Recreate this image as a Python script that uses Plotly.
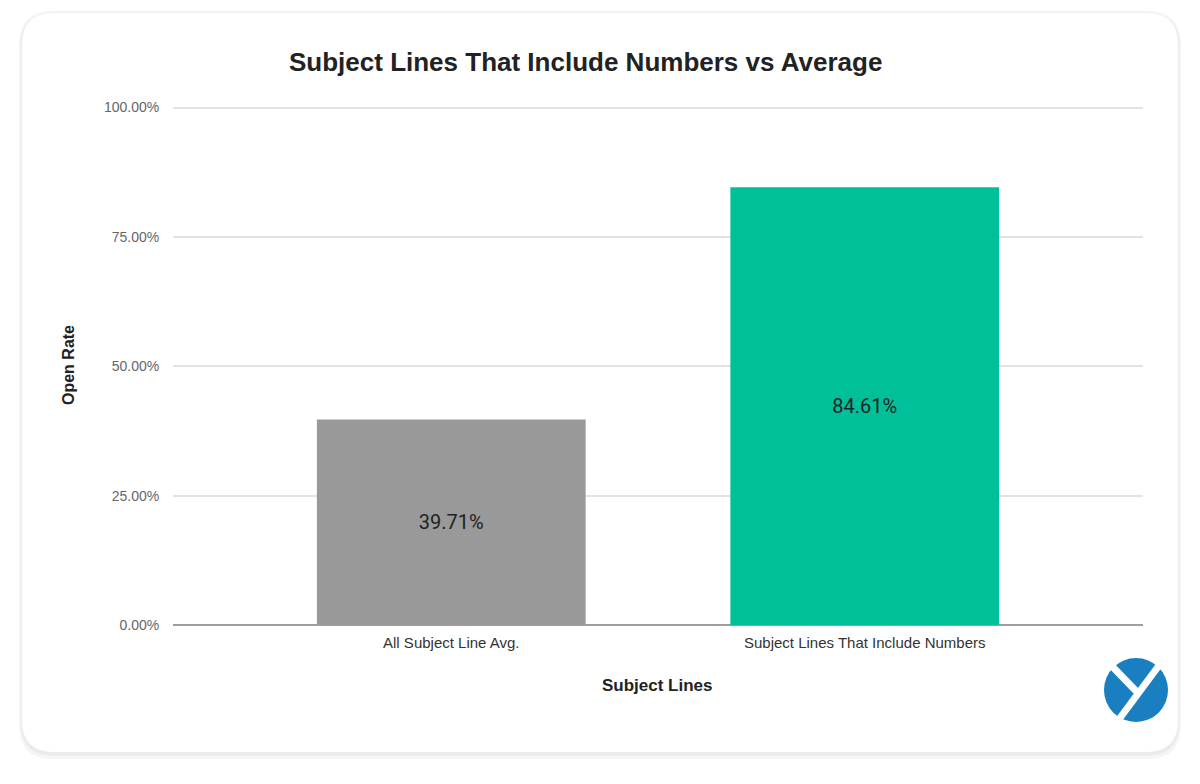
import plotly.graph_objects as go

categories = ["All Subject Line Avg.", "Subject Lines That Include Numbers"]
open_rates = [39.71, 84.61]
bar_labels = ["39.71%", "84.61%"]
bar_colors = ["#999999", "#00c09a"]
y_ticks = [0, 25, 50, 75, 100]
y_tick_labels = ["0.00%", "25.00%", "50.00%", "75.00%", "100.00%"]

O = 8  # default page margin of the html body
W, H = 1184, 768
L, R, T, B = 173 - O, 1143 - O, 106 - O, 625 - O  # plot area in figure pixels


def px(x):
    return (x - O - L) / (R - L)


def py(y):
    return (B - (y - O)) / (B - T)


def rounded_rect(x0, y0, x1, y1, r):
    pts = [
        f"M {px(x0 + r)},{py(y0)}",
        f"L {px(x1 - r)},{py(y0)}",
        f"Q {px(x1)},{py(y0)} {px(x1)},{py(y0 + r)}",
        f"L {px(x1)},{py(y1 - r)}",
        f"Q {px(x1)},{py(y1)} {px(x1 - r)},{py(y1)}",
        f"L {px(x0 + r)},{py(y1)}",
        f"Q {px(x0)},{py(y1)} {px(x0)},{py(y1 - r)}",
        f"L {px(x0)},{py(y0 + r)}",
        f"Q {px(x0)},{py(y0)} {px(x0 + r)},{py(y0)}",
        "Z",
    ]
    return " ".join(pts)


FONT = "Liberation Sans, Arial, sans-serif"

fig = go.Figure()
fig.add_trace(go.Bar(
    x=categories,
    y=open_rates,
    marker=dict(color=bar_colors, line=dict(width=0)),
    text=bar_labels,
    textposition="inside",
    insidetextanchor="middle",
    textfont=dict(family="Roboto, Arial, sans-serif", size=20, color="#222222"),
    width=0.65,
    hoverinfo="skip",
))

shapes = []
# card shadow layers
for off, col in [(6, "#f5f5f5"), (3, "#ebebeb")]:
    shapes.append(dict(type="path", xref="paper", yref="paper", layer="below",
                       path=rounded_rect(22 - off / 2, 13 - off / 2 + 1, 1178 + off / 2, 753 + off, 34),
                       fillcolor=col, line=dict(width=0)))
shapes.append(dict(type="path", xref="paper", yref="paper", layer="below",
                   path=rounded_rect(22, 13, 1178, 752, 32),
                   fillcolor="#ffffff", line=dict(width=0)))
# logo
cx, cy, rr = 1136, 690, 32
shapes.append(dict(type="circle", xref="paper", yref="paper",
                   x0=px(cx - rr), x1=px(cx + rr), y0=py(cy + rr), y1=py(cy - rr),
                   fillcolor="#1a7fc1", line=dict(width=0)))
shapes.append(dict(type="line", xref="paper", yref="paper",
                   x0=px(1166), y0=py(656), x1=px(1114), y1=py(726),
                   line=dict(color="#ffffff", width=7)))
shapes.append(dict(type="line", xref="paper", yref="paper",
                   x0=px(1106), y0=py(660), x1=px(1137), y1=py(692),
                   line=dict(color="#ffffff", width=7)))

annotations = [
    dict(text="<b>Subject Lines That Include Numbers vs Average</b>", xref="paper", yref="paper",
         x=px(585), y=py(62), xanchor="center", yanchor="middle", showarrow=False,
         font=dict(family=FONT, size=26, color="#222222")),
    dict(text="<b>Open Rate</b>", xref="paper", yref="paper", textangle=-90,
         x=px(68), y=py(365), xanchor="center", yanchor="middle", showarrow=False,
         font=dict(family=FONT, size=16, color="#222222")),
    dict(text="<b>Subject Lines</b>", xref="paper", yref="paper",
         x=px(657), y=py(685), xanchor="center", yanchor="middle", showarrow=False,
         font=dict(family=FONT, size=17, color="#222222")),
]

fig.update_layout(
    width=W, height=H,
    margin=dict(l=L, r=W - R, t=T, b=H - B, pad=0),
    paper_bgcolor="#ffffff",
    plot_bgcolor="rgba(0,0,0,0)",
    shapes=shapes,
    annotations=annotations,
    showlegend=False,
    xaxis=dict(
        range=[-0.673, 1.673],
        showgrid=False, zeroline=False, showline=False,
        ticks="outside", ticklen=4, tickcolor="rgba(0,0,0,0)",
        tickfont=dict(family=FONT, size=15, color="#333333"),
        fixedrange=True,
    ),
    yaxis=dict(
        range=[0, 100.3],
        tickvals=y_ticks, ticktext=y_tick_labels,
        showgrid=True, gridcolor="#e2e2e2", gridwidth=1.5,
        zeroline=True, zerolinecolor="#9e9e9e", zerolinewidth=1.5,
        showline=False, ticks="outside", ticklen=10, tickcolor="rgba(0,0,0,0)",
        tickfont=dict(family=FONT, size=14, color="#666666"),
        fixedrange=True,
    ),
)

fig.write_html("out.html", config={"displayModeBar": False})
